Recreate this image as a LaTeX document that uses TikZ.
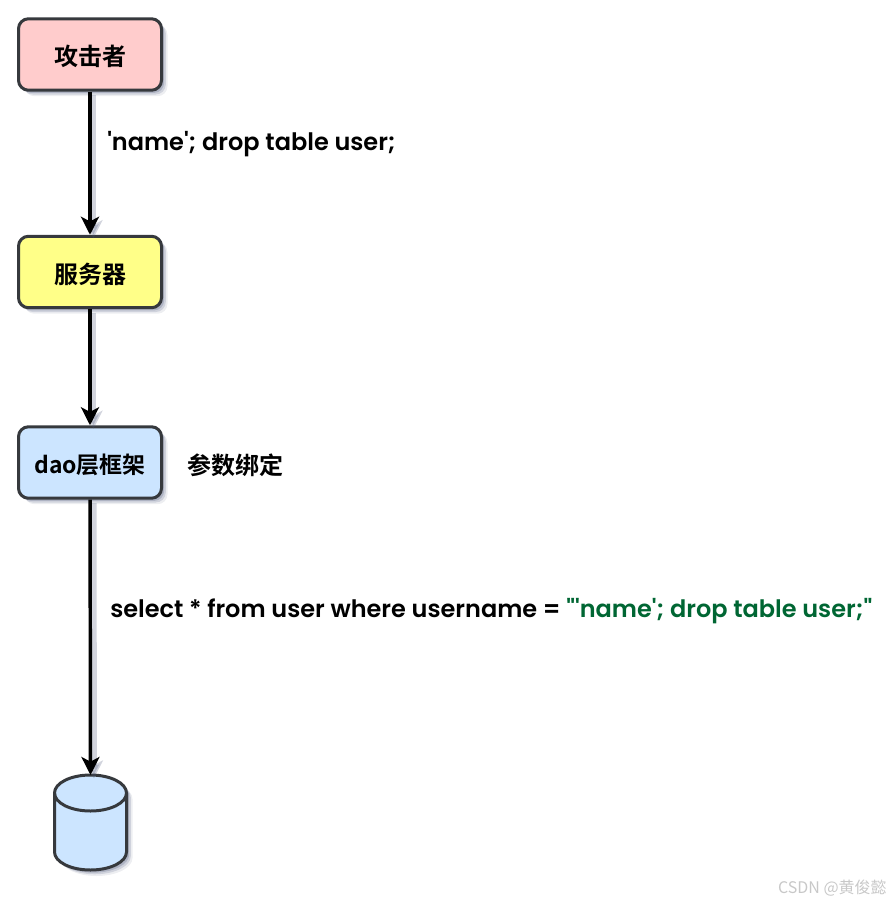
\documentclass[tikz,border=0pt]{standalone}
\usepackage{fontspec}
\newfontfamily\sqlfont{Poppins}[BoldFont={Poppins SemiBold}]
\newfontfamily\cjk{Noto Sans CJK SC}[BoldFont={Noto Sans CJK SC Bold}]
\usetikzlibrary{arrows.meta,shadows}

\definecolor{inkline}{HTML}{36393D}
\definecolor{softshade}{HTML}{4A5578}
\definecolor{sqlgreen}{HTML}{006633}
\definecolor{boxred}{HTML}{FFCCCC}
\definecolor{boxyellow}{HTML}{FFFF88}
\definecolor{boxblue}{HTML}{CCE5FF}

\tikzset{
  softshadow/.style={
    drop shadow={shadow xshift=4.5pt,shadow yshift=-4.5pt,opacity=.10,fill=softshade},
    drop shadow={shadow xshift=3.2pt,shadow yshift=-3.2pt,opacity=.18,fill=softshade},
    drop shadow={shadow xshift=2pt,shadow yshift=-2pt,opacity=.25,fill=softshade}},
  flowbox/.style={draw=inkline,line width=2.25pt,rounded corners=7.5pt,minimum width=107.25pt,
    minimum height=53.6pt,inner sep=0pt,text height=17.5pt,text depth=0.5pt,
    font=\bfseries\cjk\fontsize{18}{20}\selectfont,softshadow},
  flowline/.style={line width=2.6pt,black,-{Stealth[length=13.5pt,width=13.5pt,inset=3.5pt]},
    preaction={draw=softshade,opacity=.25,line width=4.5pt,transform canvas={shift={(2.6pt,-2.6pt)}}}},
  sqltext/.style={anchor=base west,inner sep=0pt,font=\sqlfont\bfseries\fontsize{18}{20}\selectfont},
}

\begin{document}
\begin{tikzpicture}[x=0.75pt,y=-0.75pt]
\useasboundingbox (0,0) rectangle (891,903);
\node[flowbox,fill=boxred] (attacker) at (90,54.5) {攻击者};
\node[flowbox,fill=boxyellow] (server) at (90,272) {服务器};
\node[flowbox,fill=boxblue,font=\bfseries\cjk\fontsize{17.2}{20}\selectfont] (dao) at (90,462.5) {dao层框架};

% database drum
\coordinate (dbtop) at (90.5,775);
\path[fill=boxblue,softshadow] (54.5,793) arc[start angle=180,end angle=360,x radius=36,y radius=18]
  -- (126.5,852) arc[start angle=0,end angle=180,x radius=36,y radius=18] -- cycle;
\draw[inkline,line width=2.25pt] (54.5,793) arc[start angle=180,end angle=360,x radius=36,y radius=18]
  -- (126.5,852) arc[start angle=0,end angle=180,x radius=36,y radius=18] -- cycle;
\draw[inkline,line width=2.25pt] (54.5,793) arc[start angle=180,end angle=0,x radius=36,y radius=18];

\draw[flowline] (attacker) -- (server);
\draw[flowline] (server) -- (dao);
\draw[flowline] (dao) -- (dbtop);

\node[sqltext] (payload) at (107,150) {'name'; drop table user;};
\node[anchor=west,inner sep=0pt,font=\bfseries\cjk\fontsize{18}{20}\selectfont] (bind) at (187,465.5) {参数绑定};
\node[sqltext] (query) at (110,617) {select * from user where username = \textcolor{sqlgreen}{"'name'; drop table user;"}};
\node[anchor=east,inner sep=0pt,text={rgb,255:red,200;green,200;blue,200},font=\cjk\fontsize{12}{14}\selectfont] (mark) at (887,888) {CSDN @黄俊懿};
\end{tikzpicture}
\end{document}
